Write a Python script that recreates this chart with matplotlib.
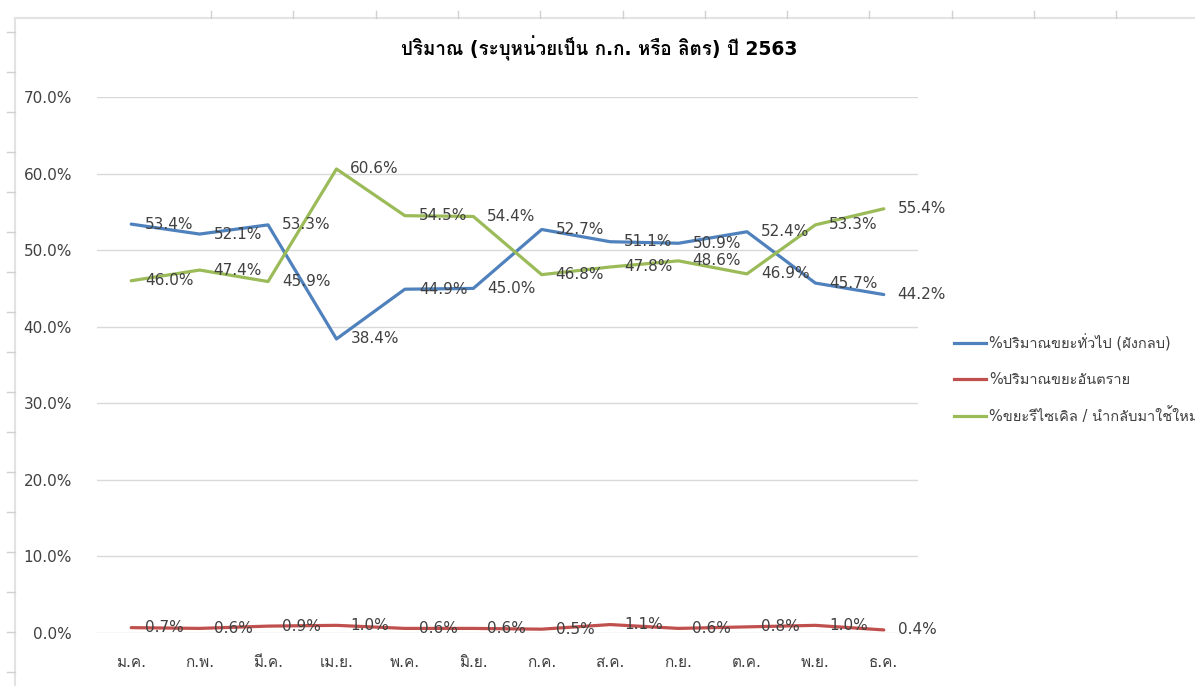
import matplotlib
matplotlib.use('Agg')
import matplotlib.pyplot as plt
from matplotlib import font_manager
from matplotlib.lines import Line2D

# pick any installed font that has Thai glyphs
thai_fonts = []
try:
    from fontTools.ttLib import TTFont
    for f in font_manager.fontManager.ttflist:
        try:
            tt = TTFont(f.fname, fontNumber=0, lazy=True)
            cmap = tt.getBestCmap() or {}
            if 0x0E1B in cmap and 0x0E21 in cmap:
                if f.name not in thai_fonts:
                    thai_fonts.append(f.name)
        except Exception:
            pass
except Exception:
    pass

plt.rcParams['font.family'] = ['DejaVu Sans'] + thai_fonts

months = ["ม.ค.", "ก.พ.", "มี.ค.", "เม.ย.", "พ.ค.", "มิ.ย.",
          "ก.ค.", "ส.ค.", "ก.ย.", "ต.ค.", "พ.ย.", "ธ.ค."]
general = [53.4, 52.1, 53.3, 38.4, 44.9, 45.0, 52.7, 51.1, 50.9, 52.4, 45.7, 44.2]
hazard = [0.7, 0.6, 0.9, 1.0, 0.6, 0.6, 0.5, 1.1, 0.6, 0.8, 1.0, 0.4]
recycle = [46.0, 47.4, 45.9, 60.6, 54.5, 54.4, 46.8, 47.8, 48.6, 46.9, 53.3, 55.4]
names = ["%ปริมาณขยะทั่วไป (ฝังกลบ)", "%ปริมาณขยะอันตราย",
         "%ขยะรีไซเคิล / นำกลับมาใช้ใหม่"]
title = "ปริมาณ (ระบุหน่วยเป็น ก.ก. หรือ ลิตร) ปี 2563"

BLUE = "#4F81BD"
RED = "#C0504D"
GREEN = "#9BBB59"
TXT = "#404040"
GRID = "#D9D9D9"

W, H = 1195, 686
fig = plt.figure(figsize=(W / 100, H / 100), dpi=100)
ax = fig.add_axes([97 / W, 1 - 633 / H, (918 - 97) / W, (633 - 97) / H])

x = list(range(len(months)))
for vals, c in [(general, BLUE), (hazard, RED), (recycle, GREEN)]:
    ax.plot(x, vals, color=c, lw=2.3, solid_capstyle='round')
    for xi, v in zip(x, vals):
        ax.annotate(f"{v:.1f}%", (xi, v), xytext=(10, 0),
                    textcoords="offset points", ha="left", va="center",
                    fontsize=11, color=TXT)

ax.set_xlim(-0.5, 11.5)
ax.set_ylim(0, 70)
ax.set_yticks(range(0, 71, 10))
ax.set_yticklabels([f"{v:.1f}%" for v in range(0, 71, 10)])
ax.set_xticks(x)
ax.set_xticklabels(months)
ax.grid(axis="y", color=GRID, lw=1)
ax.set_axisbelow(True)
for s in ax.spines.values():
    s.set_visible(False)
ax.tick_params(axis="both", length=0, labelsize=11, labelcolor=TXT)
ax.tick_params(axis="y", pad=18)
ax.tick_params(axis="x", pad=16)

fig.text(599 / W, 1 - 48 / H, title, ha="center", va="center",
         fontsize=13.5, fontweight="bold", color="#000000")

handles = [Line2D([], [], color=c, lw=2.3) for c in (BLUE, RED, GREEN)]
fig.legend(handles, names, loc="upper left", bbox_to_anchor=(941 / W, 1 - 321 / H),
           frameon=False, fontsize=10.5, handlelength=2.2, handletextpad=0.2,
           labelspacing=1.4, labelcolor=TXT)

# spreadsheet grid showing behind the chart
fig.add_artist(Line2D([15 / W, 1], [1 - 18 / H, 1 - 18 / H], color="#E3E3E3", lw=1.5))
fig.add_artist(Line2D([15 / W, 15 / W], [0, 1 - 18 / H], color="#E3E3E3", lw=1.5))
for k in range(12):
    xx = (211 + 82.3 * k) / W
    fig.add_artist(Line2D([xx, xx], [1 - 11 / H, 1 - 18 / H], color="#D0D0D0", lw=1))
for k in range(17):
    yy = 1 - (32 + 40 * k) / H
    fig.add_artist(Line2D([7 / W, 15 / W], [yy, yy], color="#D0D0D0", lw=1))

fig.savefig("out.png", dpi=100)
